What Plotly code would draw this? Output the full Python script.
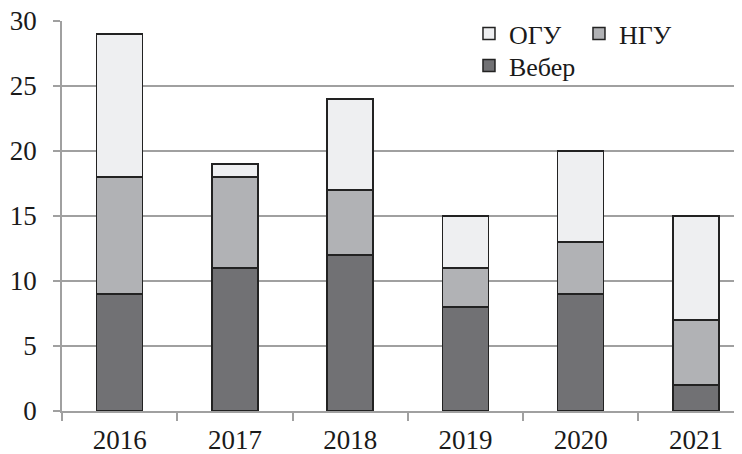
import plotly.graph_objects as go

years = ["2016", "2017", "2018", "2019", "2020", "2021"]
weber = [9, 11, 12, 8, 9, 2]
ngu = [9, 7, 5, 3, 4, 5]
ogu = [11, 1, 7, 4, 7, 8]
y_ticks = [0, 5, 10, 15, 20, 25, 30]

font = dict(family="Liberation Serif", size=27, color="#1a1a1a")
lfont = dict(family="Liberation Serif", size=26, color="#1a1a1a")
line = dict(color="#222222", width=1.5)

fig = go.Figure()
fig.add_trace(go.Bar(x=years, y=weber, name="Вебер", marker=dict(color="#717174", line=line),
                     width=0.4, legend="legend2"))
fig.add_trace(go.Bar(x=years, y=ngu, name="НГУ", marker=dict(color="#b1b2b5", line=line),
                     width=0.4, legend="legend"))
fig.add_trace(go.Bar(x=years, y=ogu, name="ОГУ", marker=dict(color="#eeeff1", line=line),
                     width=0.4, legend="legend"))

fig.update_layout(
    width=734, height=446,
    margin=dict(l=54, r=0, t=13, b=43, autoexpand=False),
    barmode="stack",
    plot_bgcolor="white", paper_bgcolor="white",
    font=font,
    legend=dict(orientation="h", x=0.5985, y=1.028, xanchor="left", yanchor="top",
                traceorder="reversed", bgcolor="rgba(0,0,0,0)", font=lfont,
                itemwidth=30, entrywidth=65, entrywidthmode="pixels"),
    legend2=dict(orientation="h", x=0.5985, y=0.946, xanchor="left", yanchor="top",
                 bgcolor="rgba(0,0,0,0)", font=lfont, itemwidth=30),
    xaxis=dict(range=[-0.5, 5.40], showline=True, linecolor="#a0a0a0", linewidth=1.5,
               ticks="outside", tickson="boundaries", ticklen=8, tickcolor="#a0a0a0",
               tickwidth=1.5, showgrid=False, tickfont=font, ticklabelstandoff=4,
               automargin=False),
    yaxis=dict(range=[0, 30], tickvals=y_ticks, showline=True, linecolor="#a0a0a0",
               linewidth=1.5, ticks="outside", ticklen=7, tickcolor="#a0a0a0", tickwidth=1.5,
               showgrid=True, gridcolor="#a0a0a0", gridwidth=1.5, zeroline=False,
               tickfont=font, ticklabelstandoff=11, ticklabeloverflow="allow",
               automargin=False),
)

fig.write_html("out.html")
